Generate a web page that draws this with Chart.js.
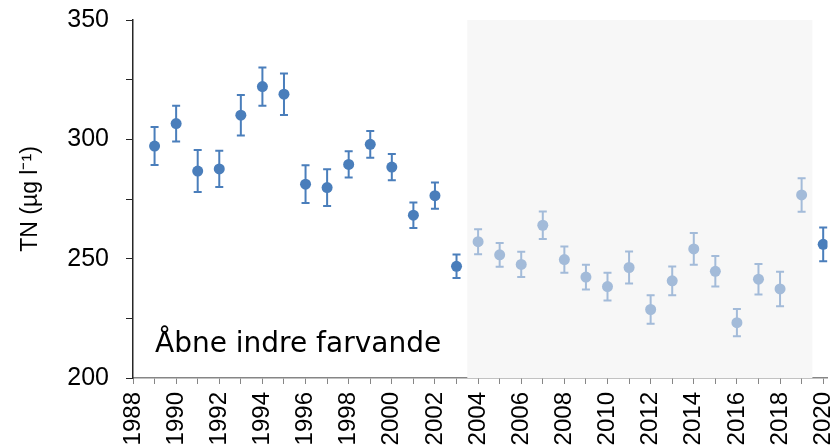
<!DOCTYPE html>
<html>
<head>
<meta charset="utf-8">
<script src="https://cdn.jsdelivr.net/npm/chart.js@4"></script>
<style>
  html, body { margin: 0; padding: 0; background: #fff; }
  #wrap { width: 833px; height: 445px; }
</style>
</head>
<body>
<div id="wrap"><canvas id="myChart"></canvas></div>
<script>
// yearly means of total nitrogen with their error margins
const years = [1989, 1990, 1991, 1992, 1993, 1994, 1995, 1996, 1997, 1998, 1999, 2000, 2001, 2002, 2003,
  2004, 2005, 2006, 2007, 2008, 2009, 2010, 2011, 2012, 2013, 2014, 2015, 2016, 2017, 2018, 2019, 2020];
const tn = [297.2, 306.6, 286.7, 287.6, 310.1, 322.1, 318.9, 281.2, 279.8, 289.5, 297.9, 288.4, 268.2, 276.4, 246.8,
  257.1, 251.6, 247.6, 264.0, 249.6, 242.3, 238.3, 246.3, 228.7, 240.7, 254.1, 244.7, 223.2, 241.4, 237.3, 276.7, 256.0];
const err = [8.0, 7.5, 8.8, 7.6, 8.5, 8.0, 8.7, 7.9, 7.7, 5.5, 5.6, 5.5, 5.3, 5.5, 4.9,
  5.2, 5.0, 5.3, 5.8, 5.5, 5.2, 5.8, 6.7, 6.0, 6.0, 6.7, 6.4, 5.7, 6.4, 7.2, 7.0, 7.1];

// years drawn in the pale colour, and the grey band behind them
const paleFrom = 2004, paleTo = 2019;
const bandFrom = 2003.5, bandTo = 2019.5;

const darkBlue = "#4a7ebb";
const paleBlue = "#a3bbd9";
const colorFor = (yr) => (yr >= paleFrom && yr <= paleTo ? paleBlue : darkBlue);

const tickYears = [];
for (let y = 1988; y <= 2020; y++) tickYears.push(y);

const font = "'Liberation Sans', Arial, sans-serif";

// grey background band
const bandPlugin = {
  id: "band",
  beforeDatasetsDraw(chart) {
    const { ctx, chartArea, scales } = chart;
    const x1 = scales.x.getPixelForValue(bandFrom);
    const x2 = scales.x.getPixelForValue(bandTo);
    ctx.save();
    ctx.fillStyle = "#f7f7f7";
    ctx.fillRect(x1, chartArea.top, x2 - x1, chartArea.bottom - chartArea.top);
    ctx.restore();
  },
};

// error bars with caps
const errorBars = {
  id: "errorBars",
  beforeDatasetsDraw(chart) {
    const { ctx, scales } = chart;
    ctx.save();
    ctx.lineWidth = 2;
    years.forEach((yr, i) => {
      const x = scales.x.getPixelForValue(yr);
      const top = scales.y.getPixelForValue(tn[i] + err[i]);
      const bot = scales.y.getPixelForValue(tn[i] - err[i]);
      ctx.strokeStyle = colorFor(yr);
      ctx.beginPath();
      ctx.moveTo(x, top);
      ctx.lineTo(x, bot);
      ctx.moveTo(x - 4, top);
      ctx.lineTo(x + 4, top);
      ctx.moveTo(x - 4, bot);
      ctx.lineTo(x + 4, bot);
      ctx.stroke();
    });
    ctx.restore();
  },
};

// area name inside the plot
const areaLabel = {
  id: "areaLabel",
  afterDraw(chart) {
    const { ctx, chartArea } = chart;
    ctx.save();
    ctx.font = "28px 'DejaVu Sans', sans-serif";
    ctx.fillStyle = "#000";
    ctx.textBaseline = "alphabetic";
    ctx.fillText("Åbne indre farvande", chartArea.left + 22, chartArea.bottom - 26);
    ctx.restore();
  },
};

const ctx = document.getElementById("myChart").getContext("2d");
const chart = new Chart(ctx, {
  type: "scatter",
  data: {
    datasets: [
      {
        data: years.map((yr, i) => ({ x: yr, y: tn[i] })),
        pointRadius: 5.5,
        pointHoverRadius: 5.5,
        borderWidth: 0,
        pointBackgroundColor: (c) => colorFor(years[c.dataIndex]),
        pointBorderColor: (c) => colorFor(years[c.dataIndex]),
      },
    ],
  },
  options: {
    responsive: true,
    maintainAspectRatio: false,
    animation: false,
    layout: { padding: { top: 20, right: 0, left: 0, bottom: 0 } },
    plugins: {
      legend: { display: false },
      tooltip: { enabled: false },
    },
    scales: {
      x: {
        type: "linear",
        min: 1988,
        max: 2020.2,
        afterBuildTicks: (scale) => {
          scale.ticks = tickYears.map((v) => ({ value: v }));
        },
        afterFit: (scale) => {
          scale.height = 67;
          scale.paddingLeft = 0;
          scale.paddingRight = 0;
        },
        grid: {
          display: true,
          drawOnChartArea: false,
          tickLength: 6,
          tickColor: "#868686",
        },
        border: { color: "#868686", width: 1.5 },
        ticks: {
          autoSkip: false,
          maxRotation: 90,
          minRotation: 90,
          padding: 8,
          color: "#000",
          font: { family: font, size: 24 },
          callback: (v) => (v % 2 === 0 ? String(v) : ""),
        },
      },
      y: {
        min: 200,
        max: 350,
        afterBuildTicks: (scale) => {
          const t = [];
          for (let v = 200; v <= 350; v += 25) t.push({ value: v });
          scale.ticks = t;
        },
        afterFit: (scale) => {
          scale.width = 133;
          scale.paddingTop = 0;
          scale.paddingBottom = 0;
        },
        grid: {
          display: true,
          drawOnChartArea: false,
          tickLength: 7,
          tickColor: "#262626",
        },
        border: { color: "#262626", width: 1.5 },
        ticks: {
          padding: 17,
          color: "#000",
          font: { family: font, size: 25 },
          callback: (v) => (v % 50 === 0 ? String(v) : ""),
        },
        title: {
          display: true,
          text: "TN (µg l⁻¹)",
          color: "#000",
          font: { family: font, size: 23 },
          padding: { top: 17, bottom: 0 },
        },
      },
    },
  },
  plugins: [bandPlugin, errorBars, areaLabel],
});
</script>
</body>
</html>
